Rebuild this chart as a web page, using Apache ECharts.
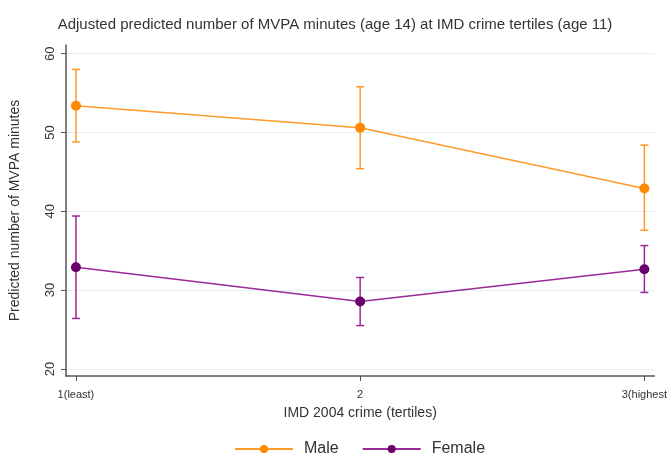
<!DOCTYPE html>
<html>
<head>
<meta charset="utf-8">
<script src="https://cdn.jsdelivr.net/npm/echarts@6/dist/echarts.min.js"></script>
<style>html,body{margin:0;padding:0;background:#fff}#c{width:670px;height:456px}</style>
</head>
<body>
<div id="c"></div>
<script>
var xValues = [1, 2, 3];
var xLabels = ['1(least)', '2', '3(highest'];
var yTicks = [20, 30, 40, 50, 60];
var maleMean = [53.4, 50.6, 42.9];
var maleLow = [48.8, 45.4, 37.6];
var maleHigh = [58.0, 55.8, 48.4];
var femaleMean = [32.9, 28.55, 32.65];
var femaleLow = [26.4, 25.5, 29.7];
var femaleHigh = [39.4, 31.6, 35.65];

var orangeMark = '#ff8a00', orangeLine = '#ff9a2a';
var purpleMark = '#6a006a', purpleLine = '#9a2a98';

function errData(low, high) {
  return xValues.map(function (x, i) { return [x, low[i], high[i]]; });
}
function errRender(color) {
  return function (params, api) {
    var x = api.value(0);
    var lo = api.coord([x, api.value(1)]);
    var hi = api.coord([x, api.value(2)]);
    var w = 4;
    var style = { stroke: color, lineWidth: 1.5 };
    return {
      type: 'group',
      children: [
        { type: 'line', shape: { x1: lo[0], y1: lo[1], x2: hi[0], y2: hi[1] }, style: style },
        { type: 'line', shape: { x1: lo[0] - w, y1: lo[1], x2: lo[0] + w, y2: lo[1] }, style: style },
        { type: 'line', shape: { x1: hi[0] - w, y1: hi[1], x2: hi[0] + w, y2: hi[1] }, style: style }
      ]
    };
  };
}
function pairs(arr) { return xValues.map(function (x, i) { return [x, arr[i]]; }); }

var chart = echarts.init(document.getElementById('c'), null, { renderer: 'canvas' });
chart.setOption({
  animation: false,
  backgroundColor: '#ffffff',
  textStyle: { fontFamily: 'Liberation Sans, Arial, sans-serif' },
  title: {
    text: 'Adjusted predicted number of MVPA minutes (age 14) at IMD crime tertiles (age 11)',
    left: 'center', top: 12,
    textStyle: { fontSize: 15, fontWeight: 'normal', color: '#333333' }
  },
  legend: {
    top: 436, left: 229,
    itemWidth: 58, itemHeight: 10, itemGap: 23,
    textStyle: { fontSize: 16, color: '#333', padding: [0, 0, 0, 6] },
    data: ['Male', 'Female']
  },
  grid: { left: 66, right: 15, top: 45, bottom: 80 },
  xAxis: {
    type: 'value', min: 0.965, max: 3.035,
    name: 'IMD 2004 crime (tertiles)', nameLocation: 'middle', nameGap: 30,
    nameTextStyle: { fontSize: 14, color: '#333' },
    axisLine: { lineStyle: { color: '#555', width: 1.5 } },
    axisTick: { show: true, customValues: xValues, length: 5, lineStyle: { color: '#555' } },
    axisLabel: {
      customValues: xValues, fontSize: 11, color: '#333', margin: 13,
      formatter: function (v) { var i = xValues.indexOf(v); return i >= 0 ? xLabels[i] : ''; }
    },
    splitLine: { show: false }
  },
  yAxis: {
    type: 'value', min: 19.1, max: 61.1,
    name: 'Predicted number of MVPA minutes', nameLocation: 'middle', nameGap: 44,
    nameTextStyle: { fontSize: 14, color: '#333' },
    axisLine: { show: true, lineStyle: { color: '#555', width: 1.5 } },
    axisTick: { show: true, customValues: yTicks, length: 5, lineStyle: { color: '#555' } },
    axisLabel: { customValues: yTicks, rotate: 90, fontSize: 13, color: '#333', margin: 9 },
    splitLine: { show: true, lineStyle: { color: '#e6edf3', width: 1 } }
  },
  series: [
    { type: 'custom', name: 'MaleCI', renderItem: errRender(orangeLine), data: errData(maleLow, maleHigh), encode: { x: 0, y: [1, 2] }, z: 1 },
    { type: 'custom', name: 'FemaleCI', renderItem: errRender(purpleLine), data: errData(femaleLow, femaleHigh), encode: { x: 0, y: [1, 2] }, z: 1 },
    {
      type: 'line', name: 'Male', data: pairs(maleMean), z: 3,
      symbol: 'circle', symbolSize: 10,
      lineStyle: { color: orangeLine, width: 1.5 },
      itemStyle: { color: orangeMark }
    },
    {
      type: 'line', name: 'Female', data: pairs(femaleMean), z: 3,
      symbol: 'circle', symbolSize: 10,
      lineStyle: { color: purpleLine, width: 1.5 },
      itemStyle: { color: purpleMark }
    }
  ]
});
</script>
</body>
</html>
